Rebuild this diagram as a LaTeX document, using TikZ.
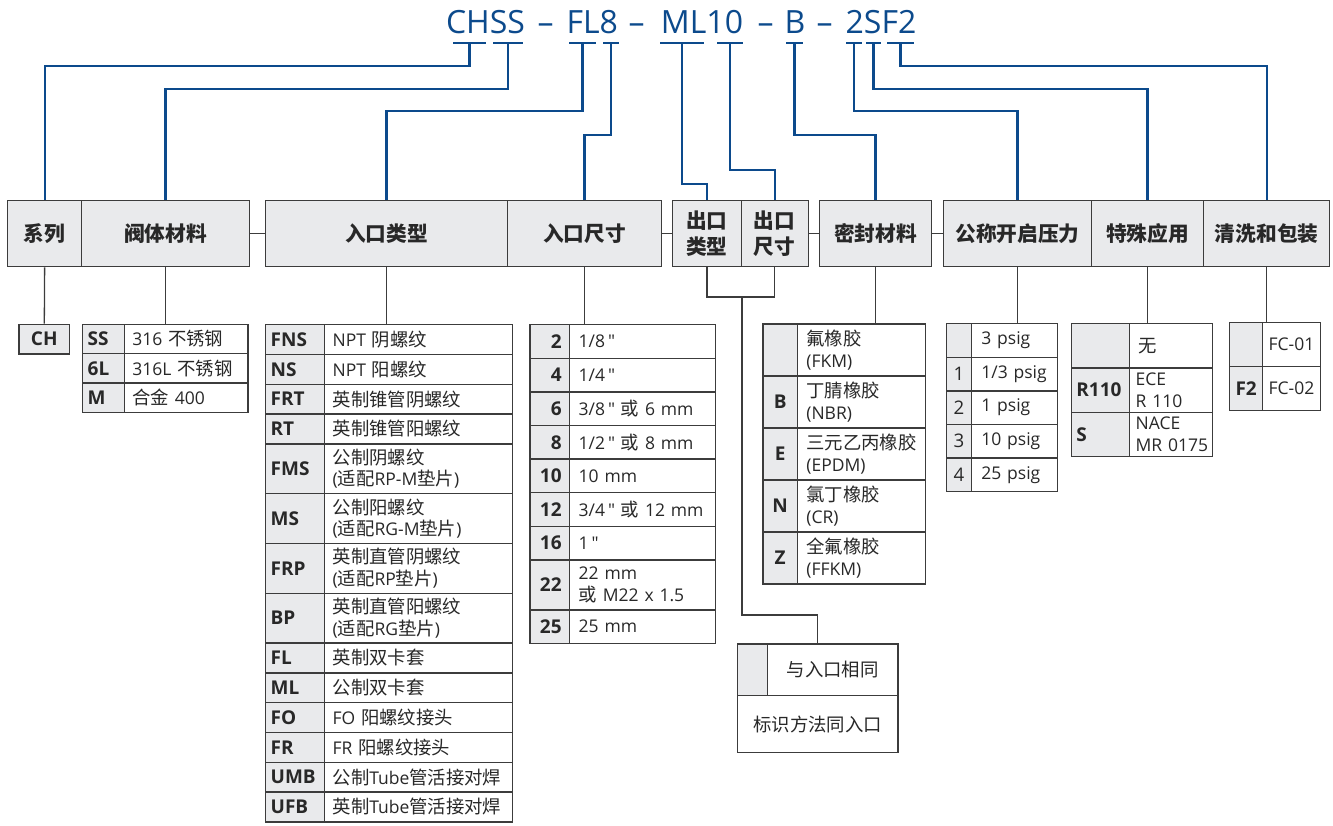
\documentclass[tikz,border=0pt]{standalone}
\usepackage{fontspec}
\setmainfont{Open Sans}[Ligatures=TeXOff]
\newfontfamily\cjkfont{Noto Sans CJK SC}[Scale=1.05]
\newcommand\cn[1]{{\cjkfont#1}}
\newcommand\inch{\,"}
\definecolor{codeblue}{RGB}{12,74,140}
\definecolor{cellgray}{RGB}{233,234,236}
\definecolor{edgegray}{RGB}{60,60,60}
\definecolor{ink}{RGB}{40,40,40}

\begin{document}
\begin{tikzpicture}[
    x=1pt, y=-1pt,
    head/.style={
        draw=edgegray,
        fill=cellgray,
        line width=1.3pt,
        anchor=north west,
        inner sep=0pt,
        minimum height=66pt,
        align=center,
        text=ink,
        font=\cjkfont\bfseries\fontsize{19.7}{26.7}\selectfont
    },
    codebox/.style={
        draw=edgegray,
        fill=cellgray,
        line width=1.3pt,
        anchor=north west,
        inner xsep=5pt,
        inner ysep=0pt,
        align=left,
        text=ink,
        font=\bfseries\fontsize{19}{22}\selectfont
    },
    descbox/.style={
        draw=edgegray,
        fill=white,
        line width=1.3pt,
        anchor=north west,
        inner xsep=8pt,
        inner ysep=0pt,
        align=left,
        text=ink,
        font=\fontsize{17.5}{21.7}\selectfont
    },
    codetext/.style={anchor=base, inner sep=0pt, text=codeblue, font=\fontsize{32}{38}\selectfont},
    bar/.style={fill=codeblue, inner sep=0pt, minimum height=2.4pt},
    codeline/.style={draw=codeblue, line width=2.3pt},
    link/.style={draw=edgegray, line width=1.3pt}
]
\useasboundingbox (0,0) rectangle (1333,825);

% === Code de commande ===
\node[codetext] (cchss) at (485.5,33) {CHSS};
\node[codetext] (dash1) at (545.5,33) {–};
\node[codetext] (cfl) at (592.3,33) {FL8};
\node[codetext] (dash2) at (636.5,33) {–};
\node[codetext] (cml) at (702,33) {ML10};
\node[codetext] (dash3) at (765.5,33) {–};
\node[codetext] (cb) at (795,33) {B};
\node[codetext] (dash4) at (824.5,33) {–};
\node[codetext] (csf) at (881,33) {2SF2};

\node[bar, minimum width=33pt] (barCH) at (469.5,42.7) {};
\node[bar, minimum width=30pt] (barSS) at (508,42.7) {};
\node[bar, minimum width=27pt] (barFL) at (582.5,42.7) {};
\node[bar, minimum width=16pt] (bar8) at (611,42.7) {};
\node[bar, minimum width=44pt] (barML) at (682,42.7) {};
\node[bar, minimum width=26pt] (bar10) at (730,42.7) {};
\node[bar, minimum width=17pt] (barB) at (794.5,42.7) {};
\node[bar, minimum width=16pt] (bar2) at (854,42.7) {};
\node[bar, minimum width=15pt] (barS) at (873.5,42.7) {};
\node[bar, minimum width=27pt] (barF2) at (900.5,42.7) {};

% === En-tetes ===
\node[head, minimum width=74pt] (series) at (7,200) {系列};
\node[head, minimum width=167.5pt] (body) at (81,200) {阀体材料};
\node[head, minimum width=242.5pt] (inlettype) at (264.5,200) {入口类型};
\node[head, minimum width=153.5pt] (inletsize) at (507,200) {入口尺寸};
\node[head, minimum width=68.5pt] (outtype) at (672,200) {出口\\类型};
\node[head, minimum width=67pt] (outsize) at (740.5,200) {出口\\尺寸};
\node[head, minimum width=112.5pt] (seal) at (818.5,200) {密封材料};
\node[head, minimum width=147.5pt] (pressure) at (943,200) {公称开启压力};
\node[head, minimum width=112.5pt] (special) at (1090.5,200) {特殊应用};
\node[head, minimum width=126pt] (cleaning) at (1203,200) {清洗和包装};

% === Serie ===
\node[codebox, align=center, text width=40.7pt, minimum height=29.6pt] (ch) at (18.3,323.7) {CH};

% === Materiau du corps ===
\node[codebox, text width=31.7pt, minimum height=29.3pt] (ss) at (82,323.7) {SS};
\node[descbox, text width=107.6pt, minimum height=29.3pt] (ssd) at (123.7,323.7) {316 \cn{不锈钢}};
\node[codebox, text width=31.7pt, minimum height=29.3pt] (sixl) at (82,353) {6L};
\node[descbox, text width=107.6pt, minimum height=29.3pt] (sixld) at (123.7,353) {316L \cn{不锈钢}};
\node[codebox, text width=31.7pt, minimum height=29.3pt] (m) at (82,382.3) {M};
\node[descbox, text width=107.6pt, minimum height=29.3pt] (md) at (123.7,382.3) {\cn{合金} 400};

% === Type d'entree ===
\node[codebox, text width=49pt, minimum height=29.8pt] (fns) at (265,324) {FNS};
\node[descbox, text width=171.7pt, minimum height=29.8pt] (fnsd) at (324,324) {NPT \cn{阴螺纹}};
\node[codebox, text width=49pt, minimum height=29.8pt] (ns) at (265,353.8) {NS};
\node[descbox, text width=171.7pt, minimum height=29.8pt] (nsd) at (324,353.8) {NPT \cn{阳螺纹}};
\node[codebox, text width=49pt, minimum height=29.8pt] (frt) at (265,383.6) {FRT};
\node[descbox, text width=171.7pt, minimum height=29.8pt] (frtd) at (324,383.6) {\cn{英制锥管阴螺纹}};
\node[codebox, text width=49pt, minimum height=29.8pt] (rt) at (265,413.4) {RT};
\node[descbox, text width=171.7pt, minimum height=29.8pt] (rtd) at (324,413.4) {\cn{英制锥管阳螺纹}};
\node[codebox, text width=49pt, minimum height=49.8pt] (fms) at (265,443.2) {FMS};
\node[descbox, text width=171.7pt, minimum height=49.8pt] (fmsd) at (324,443.2) {\cn{公制阴螺纹}\\(\cn{适配}RP-M\cn{垫片})};
\node[codebox, text width=49pt, minimum height=49.8pt] (ms) at (265,493) {MS};
\node[descbox, text width=171.7pt, minimum height=49.8pt] (msd) at (324,493) {\cn{公制阳螺纹}\\(\cn{适配}RG-M\cn{垫片})};
\node[codebox, text width=49pt, minimum height=49.8pt] (frp) at (265,542.8) {FRP};
\node[descbox, text width=171.7pt, minimum height=49.8pt] (frpd) at (324,542.8) {\cn{英制直管阴螺纹}\\(\cn{适配}RP\cn{垫片})};
\node[codebox, text width=49pt, minimum height=49.8pt] (bp) at (265,592.6) {BP};
\node[descbox, text width=171.7pt, minimum height=49.8pt] (bpd) at (324,592.6) {\cn{英制直管阳螺纹}\\(\cn{适配}RG\cn{垫片})};
\node[codebox, text width=49pt, minimum height=29.8pt] (fl) at (265,642.4) {FL};
\node[descbox, text width=171.7pt, minimum height=29.8pt] (fld) at (324,642.4) {\cn{英制双卡套}};
\node[codebox, text width=49pt, minimum height=29.8pt] (ml) at (265,672.2) {ML};
\node[descbox, text width=171.7pt, minimum height=29.8pt] (mld) at (324,672.2) {\cn{公制双卡套}};
\node[codebox, text width=49pt, minimum height=29.8pt] (fo) at (265,702) {FO};
\node[descbox, text width=171.7pt, minimum height=29.8pt] (fod) at (324,702) {FO \cn{阳螺纹接头}};
\node[codebox, text width=49pt, minimum height=29.8pt] (fr) at (265,731.8) {FR};
\node[descbox, text width=171.7pt, minimum height=29.8pt] (frd) at (324,731.8) {FR \cn{阳螺纹接头}};
\node[codebox, text width=49pt, minimum height=29.8pt] (umb) at (265,761.6) {UMB};
\node[descbox, text width=171.7pt, minimum height=29.8pt] (umbd) at (324,761.6) {\cn{公制}Tube\cn{管活接对焊}};
\node[codebox, text width=49pt, minimum height=29.8pt] (ufb) at (265,791.4) {UFB};
\node[descbox, text width=171.7pt, minimum height=29.8pt] (ufbd) at (324,791.4) {\cn{英制}Tube\cn{管活接对焊}};

% === Taille d'entree ===
\node[codebox, align=right, inner xsep=8pt, text width=23.7pt, minimum height=33.6pt] (s2) at (529.3,324) {2};
\node[descbox, inner xsep=9pt, text width=127.7pt, minimum height=33.6pt] (s2d) at (569,324) {1/8\inch};
\node[codebox, align=right, inner xsep=8pt, text width=23.7pt, minimum height=33.6pt] (s4) at (529.3,357.6) {4};
\node[descbox, inner xsep=9pt, text width=127.7pt, minimum height=33.6pt] (s4d) at (569,357.6) {1/4\inch};
\node[codebox, align=right, inner xsep=8pt, text width=23.7pt, minimum height=33.6pt] (s6) at (529.3,391.2) {6};
\node[descbox, inner xsep=9pt, text width=127.7pt, minimum height=33.6pt] (s6d) at (569,391.2) {3/8\inch~\cn{或}~6~mm};
\node[codebox, align=right, inner xsep=8pt, text width=23.7pt, minimum height=33.6pt] (s8) at (529.3,424.8) {8};
\node[descbox, inner xsep=9pt, text width=127.7pt, minimum height=33.6pt] (s8d) at (569,424.8) {1/2\inch~\cn{或}~8~mm};
\node[codebox, align=right, inner xsep=8pt, text width=23.7pt, minimum height=33.6pt] (s10) at (529.3,458.4) {10};
\node[descbox, inner xsep=9pt, text width=127.7pt, minimum height=33.6pt] (s10d) at (569,458.4) {10~mm};
\node[codebox, align=right, inner xsep=8pt, text width=23.7pt, minimum height=33.6pt] (s12) at (529.3,492) {12};
\node[descbox, inner xsep=9pt, text width=127.7pt, minimum height=33.6pt] (s12d) at (569,492) {3/4\inch~\cn{或}~12~mm};
\node[codebox, align=right, inner xsep=8pt, text width=23.7pt, minimum height=33.6pt] (s16) at (529.3,525.6) {16};
\node[descbox, inner xsep=9pt, text width=127.7pt, minimum height=33.6pt] (s16d) at (569,525.6) {1\inch};
\node[codebox, align=right, inner xsep=8pt, text width=23.7pt, minimum height=50pt] (s22) at (529.3,559.2) {22};
\node[descbox, inner xsep=9pt, text width=127.7pt, minimum height=50pt] (s22d) at (569,559.2) {22~mm\\\cn{或}~M22~x~1.5};
\node[codebox, align=right, inner xsep=8pt, text width=23.7pt, minimum height=33.4pt] (s25) at (529.3,609.2) {25};
\node[descbox, inner xsep=9pt, text width=127.7pt, minimum height=33.4pt] (s25d) at (569,609.2) {25~mm};

% === Sortie ===
\node[codebox, text width=20pt, minimum height=51.7pt] (samecode) at (736.7,643.3) {};
\node[descbox, align=center, inner xsep=9pt, text width=112.6pt, minimum height=51.7pt] (samedesc) at (766.7,643.3) {\cn{与入口相同}};
\node[descbox, align=center, inner xsep=9pt, text width=142.6pt, minimum height=56.7pt] (samenote) at (736.7,695) {\cn{标识方法同入口}};

% === Materiau d'etancheite ===
\node[codebox, align=center, text width=24.4pt, minimum height=52pt] (fkm) at (762.3,323.3) {};
\node[descbox, inner xsep=9pt, text width=110.3pt, minimum height=52pt] (fkmd) at (796.7,323.3) {\cn{氟橡胶}\\(FKM)};
\node[codebox, align=center, text width=24.4pt, minimum height=52pt] (nbr) at (762.3,375.3) {B};
\node[descbox, inner xsep=9pt, text width=110.3pt, minimum height=52pt] (nbrd) at (796.7,375.3) {\cn{丁腈橡胶}\\(NBR)};
\node[codebox, align=center, text width=24.4pt, minimum height=52pt] (epdm) at (762.3,427.3) {E};
\node[descbox, inner xsep=9pt, text width=110.3pt, minimum height=52pt] (epdmd) at (796.7,427.3) {\cn{三元乙丙橡胶}\\(EPDM)};
\node[codebox, align=center, text width=24.4pt, minimum height=52pt] (cr) at (762.3,479.3) {N};
\node[descbox, inner xsep=9pt, text width=110.3pt, minimum height=52pt] (crd) at (796.7,479.3) {\cn{氯丁橡胶}\\(CR)};
\node[codebox, align=center, text width=24.4pt, minimum height=52pt] (ffkm) at (762.3,531.3) {Z};
\node[descbox, inner xsep=9pt, text width=110.3pt, minimum height=52pt] (ffkmd) at (796.7,531.3) {\cn{全氟橡胶}\\(FFKM)};

% === Pression d'ouverture ===
\node[codebox, align=center, inner xsep=4pt, text width=16.7pt, minimum height=33.6pt, font=\fontsize{18.7}{22}\selectfont] (p0) at (946,323) {};
\node[descbox, inner xsep=10pt, text width=66pt, minimum height=33.6pt] (p0d) at (970.7,323) {3~psig};
\node[codebox, align=center, inner xsep=4pt, text width=16.7pt, minimum height=33.6pt, font=\fontsize{18.7}{22}\selectfont] (p1) at (946,356.6) {1};
\node[descbox, inner xsep=10pt, text width=66pt, minimum height=33.6pt] (p1d) at (970.7,356.6) {1/3~psig};
\node[codebox, align=center, inner xsep=4pt, text width=16.7pt, minimum height=33.6pt, font=\fontsize{18.7}{22}\selectfont] (p2) at (946,390.2) {2};
\node[descbox, inner xsep=10pt, text width=66pt, minimum height=33.6pt] (p2d) at (970.7,390.2) {1~psig};
\node[codebox, align=center, inner xsep=4pt, text width=16.7pt, minimum height=33.6pt, font=\fontsize{18.7}{22}\selectfont] (p3) at (946,423.8) {3};
\node[descbox, inner xsep=10pt, text width=66pt, minimum height=33.6pt] (p3d) at (970.7,423.8) {10~psig};
\node[codebox, align=center, inner xsep=4pt, text width=16.7pt, minimum height=33.6pt, font=\fontsize{18.7}{22}\selectfont] (p4) at (946,457.4) {4};
\node[descbox, inner xsep=10pt, text width=66pt, minimum height=33.6pt] (p4d) at (970.7,457.4) {25~psig};

% === Application speciale ===
\node[codebox, text width=48.3pt, minimum height=44.3pt] (sp0) at (1070.7,323) {};
\node[descbox, inner xsep=6pt, text width=71pt, minimum height=44.3pt] (sp0d) at (1129,323) {\hspace{3pt}\cn{无}};
\node[codebox, text width=48.3pt, minimum height=44.3pt] (r110) at (1070.7,367.3) {R110};
\node[descbox, inner xsep=6pt, text width=71pt, minimum height=44.3pt] (r110d) at (1129,367.3) {ECE\\R~110};
\node[codebox, text width=48.3pt, minimum height=44.3pt] (nace) at (1070.7,411.6) {S};
\node[descbox, inner xsep=6pt, text width=71pt, minimum height=44.3pt] (naced) at (1129,411.6) {NACE\\MR~0175};

% === Nettoyage et emballage ===
\node[codebox, align=center, text width=23pt, minimum height=44pt] (fc1) at (1229,322) {};
\node[descbox, inner xsep=6pt, text width=46pt, minimum height=44pt] (fc1d) at (1262,322) {\mbox{FC-01}};
\node[codebox, align=center, text width=23pt, minimum height=44pt] (fc2) at (1229,366) {F2};
\node[descbox, inner xsep=6pt, text width=46pt, minimum height=44pt] (fc2d) at (1262,366) {\mbox{FC-02}};

% === Liaisons code -> en-tetes ===
\draw[codeline] (barCH.center) -- ++(0,23.3) -| (series.north);
\draw[codeline] (barSS.center) -- ++(0,46.3) -| (body.north);
\draw[codeline] (barFL.center) -- ++(0,68.3) -| (inlettype.north);
\draw[codeline] (bar8.center) -- ++(0,92.3) -| (inletsize.north);
\draw[codeline] (barML.center) -- ++(0,141.3) -| (outtype.north);
\draw[codeline] (bar10.center) -- ++(0,127.3) -| (outsize.north);
\draw[codeline] (barB.center) -- ++(0,92.3) -| (seal.north);
\draw[codeline] (bar2.center) -- ++(0,68.3) -| (pressure.north);
\draw[codeline] (barS.center) -- ++(0,46.3) -| (special.north);
\draw[codeline] (barF2.center) -- ++(0,23.3) -| (cleaning.north);

% === Liaisons entre groupes ===
\draw[link] (body.east) -- (inlettype.west);
\draw[link] (inletsize.east) -- (outtype.west);
\draw[link] (outsize.east) -- (seal.west);
\draw[link] (seal.east) -- (pressure.west);

% === Liaisons en-tetes -> tableaux ===
\draw[link] (series.south) -- (ch.north);
\draw[link] (body.south) -- (body.south |- ssd.north);
\draw[link] (inlettype.south) -- (inlettype.south |- fnsd.north);
\draw[link] (inletsize.south) -- (inletsize.south |- s2d.north);
\draw[link] (seal.south) -- (seal.south |- fkmd.north);
\draw[link] (pressure.south) -- (pressure.south |- p0d.north);
\draw[link] (special.south) -- (special.south |- sp0d.north);
\draw[link] (cleaning.south) -- (cleaning.south |- fc1d.north);

% Sortie : meme que l'entree
\coordinate (brk) at (742,297);
\draw[link] (outtype.south) |- (brk) -| (outsize.south);
\draw[link] (brk) -- ++(0,318) -| (samenote.north |- samecode.north);

\end{tikzpicture}
\end{document}
